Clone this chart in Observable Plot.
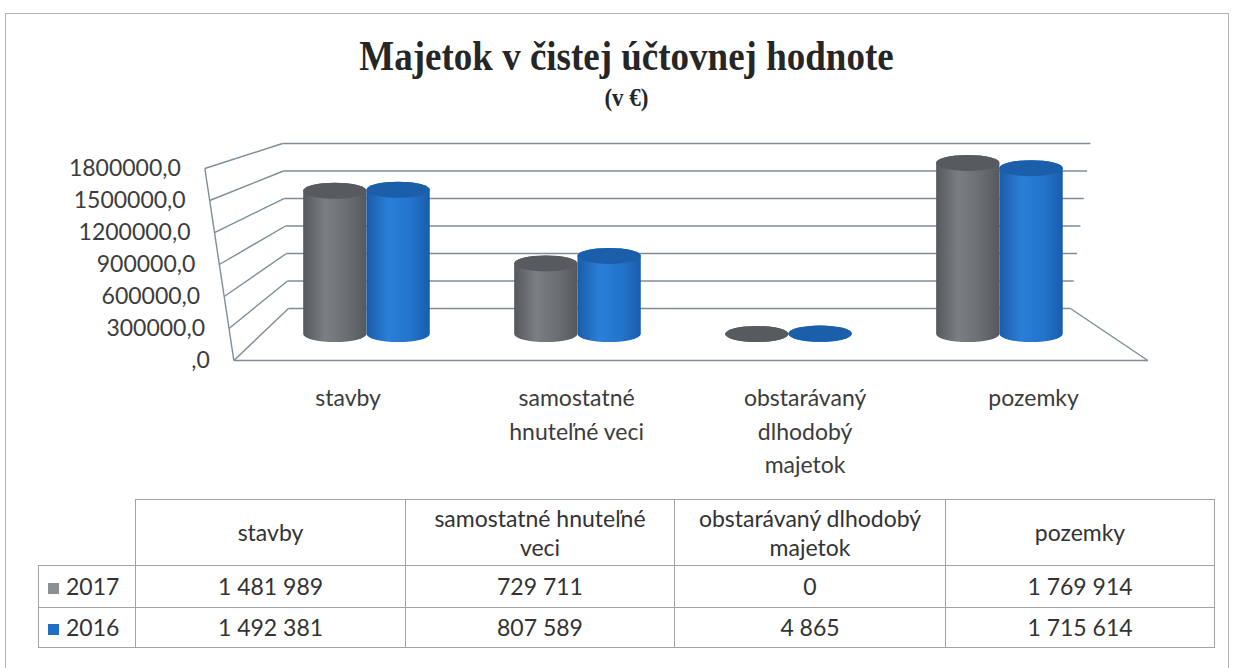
<!DOCTYPE html>
<html><head><meta charset="utf-8">
<script src="https://cdn.jsdelivr.net/npm/d3@7"></script>
<script src="https://cdn.jsdelivr.net/npm/@observablehq/plot@0.6"></script>
<style>
html,body{margin:0;padding:0;background:#fff;}
body{width:1233px;height:668px;position:relative;overflow:hidden;font-family:Lato,sans-serif;}
#frame{position:absolute;left:5px;top:13px;width:1222px;height:700px;border:1px solid #b4b4b4;}
#title{position:absolute;left:10px;width:1233px;top:36px;line-height:42px;text-align:center;font-weight:bold;font-size:37px;font-family:"Liberation Serif",serif;color:#262626;transform:scaleY(1.12);}
#subtitle{position:absolute;left:10px;width:1233px;top:85px;line-height:26px;text-align:center;font-weight:bold;font-size:23px;font-family:"Liberation Serif",serif;color:#262626;transform:scaleY(1.1);}
#chart{position:absolute;left:0;top:125px;}
#tbl{position:absolute;left:38px;top:499px;border-collapse:collapse;table-layout:fixed;font-size:23px;font-family:Lato,sans-serif;color:#333;}
#tbl td{border:1px solid #a3a3a3;text-align:center;padding:0;line-height:29px;}
#tbl td.corner{border:none;}
#tbl td.key{text-align:left;padding-left:9px;}
.sw{display:inline-block;width:11px;height:11px;margin-right:7px;vertical-align:1px;}
</style></head><body>
<div id="frame"></div>
<div id="title">Majetok v čistej účtovnej hodnote</div>
<div id="subtitle">(v €)</div>
<div id="chart"></div>
<table id="tbl"></table>
<script>
// ---- data ----
const categories = ["stavby", "samostatné hnuteľné veci", "obstarávaný dlhodobý majetok", "pozemky"];
const axisLabels = ["stavby", "samostatné\nhnuteľné veci", "obstarávaný\ndlhodobý\nmajetok", "pozemky"];
const tableHeaders = ["stavby", "samostatné hnuteľné<br>veci", "obstarávaný dlhodobý<br>majetok", "pozemky"];
const seriesNames = ["2017", "2016"];
const values2017 = [1481989, 729711, 0, 1769914];
const values2016 = [1492381, 807589, 4865, 1715614];
const tableText2017 = ["1 481 989", "729 711", "0", "1 769 914"];
const tableText2016 = ["1 492 381", "807 589", "4 865", "1 715 614"];
const yTicks = [0, 300000, 600000, 900000, 1200000, 1500000, 1800000];
const yTickLabels = [",0", "300000,0", "600000,0", "900000,0", "1200000,0", "1500000,0", "1800000,0"];

// ---- styling / layout ----
const topColors = {"2017": "#575b5f", "2016": "#1b5ea9"};
const gridColor = "#7f8d97";
const xDomain = [-1.737, 4.107];
const W = 1233, H = 355;
const PX_PER_U = W / (xDomain[1] - xDomain[0]);
const vMax = d3.max(yTicks);
const uLeft = -0.5, uRight = categories.length - 0.5;
// simple 3-D projection of the front and back planes into the (mid-depth) cylinder plane
const planes = {
  front: {yScale: 1.1034, yShift: -269000, xScale: 1.083, xShift: 0.035, lean0: -29, lean1: 14},
  back:  {yScale: 0.9483, yShift: 269000,  xScale: 0.9265, xShift: -0.019, lean0: -6,  lean1: 6.5}
};
const mid = (categories.length - 1) / 2;
function PX(plane, u, v) {
  const p = planes[plane];
  return mid + p.xShift + (u - mid) * p.xScale + (p.lean0 + (u - uLeft) * p.lean1) * (v / vMax) / PX_PER_U;
}
function PY(plane, v) {
  const p = planes[plane];
  return v * p.yScale + p.yShift;
}

const rows = categories.flatMap((c, i) => [
  {i, category: c, series: "2017", value: values2017[i]},
  {i, category: c, series: "2016", value: values2016[i]}
]);
const offsets = {"2017": [-0.3, 0], "2016": [0, 0.3]};
const cyl = s => {
  const data = rows.filter(d => d.series === s);
  const x1 = d => d.i + offsets[s][0], x2 = d => d.i + offsets[s][1];
  return [
    Plot.rect(data, {x1, x2, y1: 0, y2: "value", fill: `url(#grad${s})`, rx: 40, ry: 8, insetTop: -8, insetBottom: -8}),
    Plot.rect(data, {x1, x2, y1: "value", y2: "value", fill: topColors[s], rx: 40, ry: 8, insetTop: -8, insetBottom: -8})
  ];
};

const labelData = categories.map((c, i) => ({i, label: axisLabels[i]}));
const tickData = yTicks.map((v, k) => ({v, label: yTickLabels[k]}));

const chart = Plot.plot({
  width: W, height: H,
  marginLeft: 0, marginRight: 0, marginTop: 0, marginBottom: 0,
  style: {background: "transparent", overflow: "visible"},
  x: {type: "linear", domain: xDomain, axis: null},
  y: {type: "linear", domain: [0, vMax], range: [209, 35], axis: null},
  marks: [
    // back wall gridlines
    Plot.link(yTicks, {x1: v => PX("back", uLeft, v), y1: v => PY("back", v), x2: v => PX("back", uRight, v), y2: v => PY("back", v), stroke: gridColor, strokeWidth: 1.4}),
    // side wall lines
    Plot.link(yTicks, {x1: v => PX("front", uLeft, v), y1: v => PY("front", v), x2: v => PX("back", uLeft, v), y2: v => PY("back", v), stroke: gridColor, strokeWidth: 1.4}),
    // front edge of the side wall
    Plot.link([d3.extent(yTicks)], {x1: d => PX("front", uLeft, d[0]), y1: d => PY("front", d[0]), x2: d => PX("front", uLeft, d[1]), y2: d => PY("front", d[1]), stroke: gridColor, strokeWidth: 1.4}),
    // floor front and right edges
    Plot.link([0], {x1: v => PX("front", uLeft, v), y1: v => PY("front", v), x2: v => PX("front", uRight, v), y2: v => PY("front", v), stroke: gridColor, strokeWidth: 1.4}),
    Plot.link([0], {x1: v => PX("front", uRight, v), y1: v => PY("front", v), x2: v => PX("back", uRight, v), y2: v => PY("back", v), stroke: gridColor, strokeWidth: 1.4}),
    ...cyl("2017"),
    ...cyl("2016"),
    // value axis labels
    Plot.text(tickData, {x: d => PX("front", uLeft, d.v), y: d => PY("front", d.v), text: "label", textAnchor: "end", dx: -24, fontSize: 23, fontFamily: "Lato", fill: "#3c3c3c"}),
    // category labels
    Plot.text(labelData, {x: d => PX("front", d.i, 0), y: () => PY("front", 0), text: "label", lineAnchor: "top", lineHeight: 1.45, dy: 22, fontSize: 23, fontFamily: "Lato", fill: "#3c3c3c"})
  ]
});

const defs = d3.select(chart).insert("defs", ":first-child");
const grads = {"2017": ["#55595d", "#7b7f83", "#6a6e72", "#55595d"], "2016": ["#1a5cab", "#2a7fd6", "#2374cb", "#1a5cab"]};
for (const s of seriesNames) {
  const g = defs.append("linearGradient").attr("id", `grad${s}`).attr("x1", "0%").attr("x2", "100%").attr("y1", "0%").attr("y2", "0%");
  const st = grads[s];
  [0, 35, 70, 100].forEach((o, k) => g.append("stop").attr("offset", o + "%").attr("stop-color", st[k]));
}
document.getElementById("chart").appendChild(chart);

// ---- data table ----
const colW = [97, 270, 269, 271, 269];
const tbl = document.getElementById("tbl");
let html = "<colgroup>" + colW.map(w => `<col style="width:${w}px">`).join("") + "</colgroup>";
html += `<tr style="height:66px"><td class="corner"></td>` + tableHeaders.map(h => `<td>${h}</td>`).join("") + "</tr>";
const swatch = {"2017": "#8d9093", "2016": "#1f6fc5"};
const texts = {"2017": tableText2017, "2016": tableText2016};
const rowH = {"2017": 42, "2016": 40};
for (const s of seriesNames) {
  html += `<tr style="height:${rowH[s]}px"><td class="key"><span class="sw" style="background:${swatch[s]}"></span>${s}</td>` + texts[s].map(t => `<td>${t}</td>`).join("") + "</tr>";
}
tbl.innerHTML = html;
</script>
</body></html>
